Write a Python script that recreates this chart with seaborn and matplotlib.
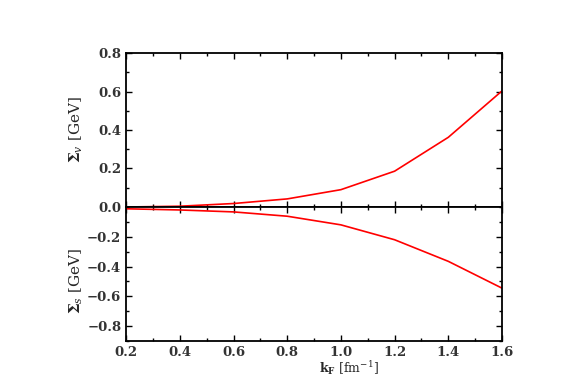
"""
Self-energies Sigma_v and Sigma_s vs Fermi momentum, two stacked panels.
"""

import matplotlib
matplotlib.use("Agg")
import matplotlib.pyplot as plt
import numpy as np
import pandas as pd
import seaborn as sns
from matplotlib.ticker import MultipleLocator

# ── Data ─────────────────────────────────────────────────────────────────────
k_f = [0.2, 0.4, 0.6, 0.8, 1.0, 1.2, 1.4, 1.6]
sigma_v = [0.0, 0.004, 0.018, 0.042, 0.090, 0.186, 0.362, 0.603]
sigma_s = [-0.012, -0.020, -0.033, -0.062, -0.120, -0.220, -0.365, -0.545]

df = pd.DataFrame({"kF": k_f, "Sv": sigma_v, "Ss": sigma_s})

sns.set_theme(style="ticks")
plt.rcParams["font.family"] = ["DejaVu Serif", "DejaVu Sans"]
plt.rcParams["mathtext.fontset"] = "dejavuserif"

fig = plt.figure(figsize=(5.76, 3.76), dpi=100)
ax_top = fig.add_axes([0.219, 0.4495, 0.6525, 0.4095])
ax_bot = fig.add_axes([0.219, 0.0931, 0.6525, 0.3564], sharex=ax_top)

sns.lineplot(data=df, x="kF", y="Sv", ax=ax_top, color="red", lw=1.2)
sns.lineplot(data=df, x="kF", y="Ss", ax=ax_bot, color="red", lw=1.2)

ax_top.set_xlim(0.2, 1.6)
ax_top.set_ylim(0.0, 0.8)
ax_bot.set_ylim(-0.9, 0.0)

for ax in (ax_top, ax_bot):
    ax.xaxis.set_major_locator(MultipleLocator(0.2))
    ax.xaxis.set_minor_locator(MultipleLocator(0.1))
    ax.yaxis.set_major_locator(MultipleLocator(0.2))
    ax.yaxis.set_minor_locator(MultipleLocator(0.1))
    ax.tick_params(which="both", direction="in", top=True, right=True,
                   colors="black", width=1.0)
    ax.tick_params(which="major", length=4, labelsize=9.5)
    ax.tick_params(which="minor", length=2)
    for s in ax.spines.values():
        s.set_linewidth(1.3)
        s.set_color("black")
    for lab in ax.get_xticklabels() + ax.get_yticklabels():
        lab.set_fontweight("bold")
        lab.set_color("#333333")

ax_top.tick_params(labelbottom=False)
ax_bot.set_yticks([-0.2, -0.4, -0.6, -0.8])
ax_bot.set_yticklabels(["\u22120.2", "\u22120.4", "\u22120.6", "\u22120.8"],
                       fontweight="bold", color="#333333")

ax_top.set_ylabel(r"$\mathbf{\Sigma}_v$ [GeV]", fontsize=11)
ax_bot.set_ylabel(r"$\mathbf{\Sigma}_s$ [GeV]", fontsize=11)
ax_top.yaxis.set_label_coords(-0.11, 0.5)
ax_bot.yaxis.set_label_coords(-0.11, 0.45)
ax_bot.set_xlabel(r"$\mathbf{k_F}$ [fm$^{-1}$]", fontsize=9)
ax_bot.xaxis.set_label_coords(0.593, -0.135, transform=ax_bot.transAxes)
ax_bot.xaxis.label.set_va("top")

fig.savefig("out.png", dpi=100)
